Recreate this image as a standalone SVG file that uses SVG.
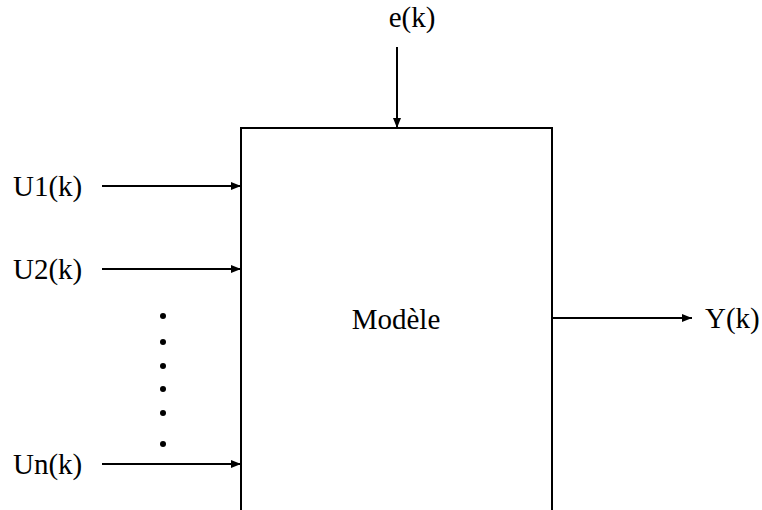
<svg xmlns="http://www.w3.org/2000/svg" width="762" height="510" viewBox="0 0 762 510">
<style>
text{font-family:"Liberation Serif","Times New Roman",serif;font-size:29px;fill:#000}
.ln{stroke:#000;stroke-width:2;fill:none}
</style>
<defs>
<marker id="ah" viewBox="0 0 10 8" refX="10" refY="4" markerWidth="10" markerHeight="8" markerUnits="userSpaceOnUse" orient="auto">
<path d="M0,0 L10,4 L0,8 z" fill="#000"/>
</marker>
</defs>
<rect width="762" height="510" fill="#fff"/>
<g id="modele">
<path class="ln" d="M241,512 V128 H552 V512"/>
<text x="396" y="329" text-anchor="middle">Modèle</text>
</g>
<g id="labels">
<text x="412" y="27" text-anchor="middle">e(k)</text>
<text x="13" y="196">U1(k)</text>
<text x="13" y="279">U2(k)</text>
<text x="13" y="474">Un(k)</text>
<text x="705" y="328">Y(k)</text>
</g>
<g id="dots" fill="#000">
<circle cx="163" cy="316" r="3"/>
<circle cx="163" cy="342" r="3"/>
<circle cx="163" cy="366" r="3"/>
<circle cx="163" cy="389" r="3"/>
<circle cx="163" cy="413" r="3"/>
<circle cx="163" cy="444" r="3"/>
</g>
<g id="connectors">
<line class="ln" x1="397" y1="47" x2="397" y2="128" marker-end="url(#ah)"/>
<line class="ln" x1="102" y1="186" x2="241" y2="186" marker-end="url(#ah)"/>
<line class="ln" x1="102" y1="269" x2="241" y2="269" marker-end="url(#ah)"/>
<line class="ln" x1="102" y1="464" x2="241" y2="464" marker-end="url(#ah)"/>
<line class="ln" x1="552" y1="318" x2="692" y2="318" marker-end="url(#ah)"/>
</g>
</svg>
